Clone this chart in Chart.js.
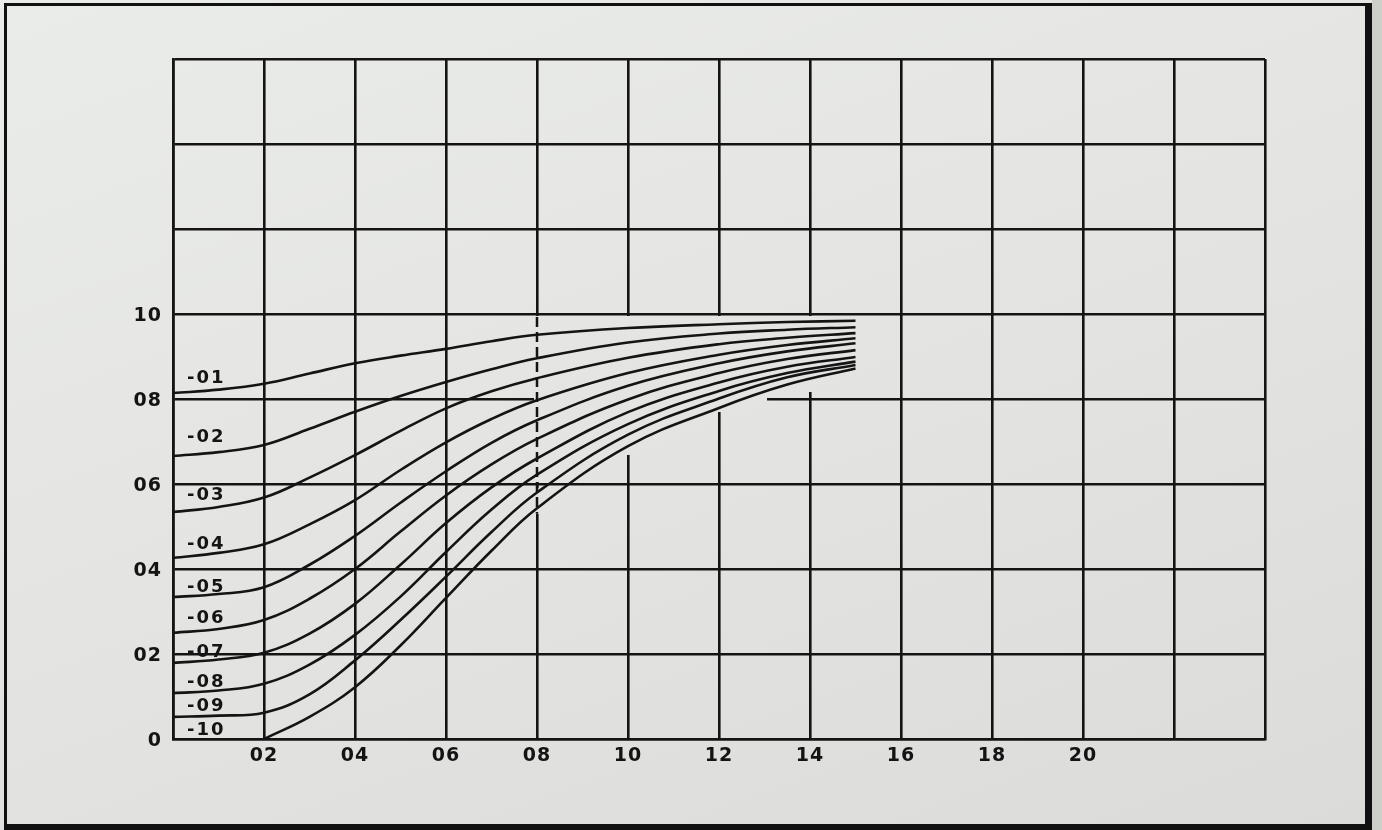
<!DOCTYPE html>
<html>
<head>
<meta charset="utf-8">
<script src="https://cdn.jsdelivr.net/npm/chart.js@4.4.1/dist/chart.umd.min.js"></script>
<style>
  html, body { margin: 0; padding: 0; }
  body { width: 1382px; height: 830px; overflow: hidden; position: relative;
    background: linear-gradient(160deg, #eaece9 0%, #e3e4e1 55%, #dbdcda 100%); }
  .frame { position: absolute; left: 4px; top: 3px; width: 1358px; height: 818px;
    border-left: 3px solid #111; border-top: 3px solid #111; border-right: 7px solid #111; border-bottom: 6px solid #111; }
  .strip { position: absolute; left: 1372px; top: 0; width: 10px; height: 830px; background: #cdd0c9; }
  canvas { position: absolute; left: 0; top: 0; }
</style>
</head>
<body>
<div class="frame"></div>
<div class="strip"></div>
<canvas id="chart" width="1382" height="830"></canvas>
<script>
// --- data ---
const xValues = [0, 0.1, 0.2, 0.3, 0.4, 0.5, 0.6, 0.7, 0.8, 1.0, 1.2, 1.35, 1.5]
const curveNames = ['-01', '-02', '-03', '-04', '-05', '-06', '-07', '-08', '-09', '-10']
const c01 = [0.814, 0.822, 0.836, 0.860, 0.884, 0.902, 0.918, 0.936, 0.951, 0.967, 0.976, 0.981, 0.984]
const c02 = [0.666, 0.675, 0.692, 0.730, 0.770, 0.807, 0.840, 0.870, 0.896, 0.933, 0.954, 0.963, 0.969]
const c03 = [0.534, 0.546, 0.568, 0.615, 0.668, 0.725, 0.778, 0.818, 0.849, 0.897, 0.929, 0.944, 0.955]
const c04 = [0.426, 0.438, 0.458, 0.505, 0.562, 0.633, 0.698, 0.753, 0.797, 0.861, 0.904, 0.927, 0.943]
const c05 = [0.334, 0.341, 0.357, 0.410, 0.478, 0.556, 0.630, 0.697, 0.750, 0.831, 0.884, 0.912, 0.931]
const c06 = [0.250, 0.259, 0.280, 0.330, 0.400, 0.488, 0.573, 0.646, 0.706, 0.799, 0.861, 0.894, 0.915]
const c07 = [0.179, 0.187, 0.203, 0.248, 0.318, 0.410, 0.508, 0.592, 0.660, 0.769, 0.839, 0.876, 0.899]
const c08 = [0.108, 0.114, 0.130, 0.175, 0.245, 0.335, 0.440, 0.540, 0.622, 0.741, 0.819, 0.861, 0.888]
const c09 = [0.052, 0.055, 0.062, 0.105, 0.185, 0.280, 0.382, 0.487, 0.580, 0.716, 0.801, 0.851, 0.880]
const c10 = [null, null, 0.000, 0.052, 0.122, 0.220, 0.332, 0.443, 0.543, 0.689, 0.779, 0.834, 0.872]
const curves = [c01, c02, c03, c04, c05, c06, c07, c08, c09, c10]

const xTickLabels = ['', '02', '04', '06', '08', '10', '12', '14', '16', '18', '20', '', '']
const yTickLabels = ['0', '02', '04', '06', '08', '10', '', '', '']

const INK = '#141414'
const FONT = 'DejaVu Sans'

const toPoints = ys => xValues.map((x, i) => ys[i] == null ? null : { x, y: ys[i] }).filter(Boolean)

// 手绘图里网格线在曲线束中断开，这里用 clearRect 挖掉，再补上 0.8 处的虚线
const gridGaps = {
  id: 'gridGaps',
  beforeDraw(chart) { chart.ctx.letterSpacing = '1px' },
  beforeDatasetsDraw(chart) {
    const { ctx, scales: { x, y } } = chart
    const vGap = (xv, y1, y2) => {
      const px = x.getPixelForValue(xv), a = y.getPixelForValue(y1) + 2, b = y.getPixelForValue(y2)
      ctx.clearRect(px - 3, a, 6, b - a)
    }
    const hGap = (yv, x1, x2) => {
      const py = y.getPixelForValue(yv), a = x.getPixelForValue(x1) + 2, b = x.getPixelForValue(x2)
      ctx.clearRect(a, py - 3, b - a, 6)
    }
    vGap(0.8, 1.0, 0.605); vGap(0.8, 0.595, 0.53)
    vGap(1.0, 1.0, 0.668)
    vGap(1.2, 1.0, 0.77)
    vGap(1.4, 1.0, 0.816)
    hGap(0.8, 0.8, 1.305)
    ctx.save()
    ctx.strokeStyle = INK; ctx.lineWidth = 2.5; ctx.setLineDash([10, 5])
    ctx.beginPath()
    ctx.moveTo(x.getPixelForValue(0.8), y.getPixelForValue(1.0) + 3)
    ctx.lineTo(x.getPixelForValue(0.8), y.getPixelForValue(0.53))
    ctx.stroke()
    ctx.restore()
  },
  afterDatasetsDraw(chart) {
    const { ctx } = chart
    const spots = [378, 437, 495, 544, 587, 618, 652, 682, 706, 730]
    ctx.save()
    ctx.fillStyle = INK
    ctx.font = 'bold 18px ' + FONT
    ctx.letterSpacing = '2px'
    ctx.textBaseline = 'middle'
    curveNames.forEach((n, i) => ctx.fillText(n, 187, spots[i]))
    ctx.restore()
  }
}

new Chart(document.getElementById('chart'), {
  type: 'line',
  data: {
    datasets: curves.map((ys, i) => ({
      label: curveNames[i],
      data: toPoints(ys),
      borderColor: INK,
      borderWidth: 2.6,
      pointRadius: 0,
      fill: false,
      tension: 0.4,
    }))
  },
  options: {
    responsive: false,
    animation: false,
    devicePixelRatio: 1,
    layout: { padding: { top: 59, right: 117, left: 0, bottom: 0 } },
    plugins: { legend: { display: false }, tooltip: { enabled: false } },
    scales: {
      x: {
        type: 'linear', min: 0, max: 2.4,
        ticks: { stepSize: 0.2, color: INK, padding: 6, maxRotation: 0, autoSkip: false,
          font: { family: FONT, size: 19, weight: 'bold' },
          callback: (v, i) => xTickLabels[i] },
        grid: { color: INK, lineWidth: 2.6, drawTicks: false },
        border: { color: INK, width: 2.6 },
        afterFit: s => { s.height = 91 },
      },
      y: {
        type: 'linear', min: 0, max: 1.6,
        ticks: { stepSize: 0.2, color: INK, padding: 11, autoSkip: false, labelOffset: 2,
          font: { family: FONT, size: 19, weight: 'bold' },
          callback: (v, i) => yTickLabels[i] },
        grid: { color: INK, lineWidth: 2.6, drawTicks: false },
        border: { color: INK, width: 2.6 },
        afterFit: s => { s.width = 173 },
      },
    },
  },
  plugins: [gridGaps],
})
</script>
</body>
</html>
